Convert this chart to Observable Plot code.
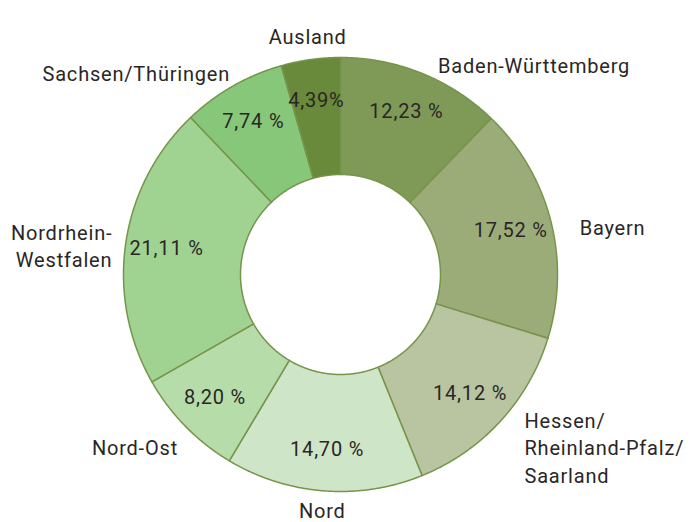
<!DOCTYPE html>
<html>
<head>
<meta charset="utf-8">
<script src="https://cdn.jsdelivr.net/npm/d3@7"></script>
<script src="https://cdn.jsdelivr.net/npm/@observablehq/plot@0.6"></script>
<style>
  html, body { margin: 0; padding: 0; background: #fff; }
  svg text { letter-spacing: 0.8px; }
</style>
</head>
<body>
<div id="chart"></div>
<script>
// Data (clockwise from 12 o'clock)
const regions = ["Baden-Württemberg", "Bayern", "Hessen/\nRheinland-Pfalz/\nSaarland", "Nord", "Nord-Ost", "Nordrhein-\nWestfalen", "Sachsen/Thüringen", "Ausland"];
const shares = [12.23, 17.52, 14.12, 14.70, 8.20, 21.11, 7.74, 4.39];
const shareLabels = ["12,23 %", "17,52 %", "14,12 %", "14,70 %", "8,20 %", "21,11 %", "7,74 %", "4,39%"];
const sliceColors = ["#7f9a57", "#9cac79", "#b9c4a1", "#cfe5c7", "#b6dcaa", "#a0d292", "#87c779", "#688a3a"];

const innerR = 100 / 217;
const outerR = 1;
const total = d3.sum(shares);

// Build slice polygons in data space
const slices = [];
const midAngles = [];
let cum = 0;
regions.forEach((region, i) => {
  const a0 = cum / total * 2 * Math.PI;
  cum += shares[i];
  const a1 = cum / total * 2 * Math.PI;
  midAngles.push((a0 + a1) / 2);
  const n = Math.max(2, Math.ceil((a1 - a0) / 0.005));
  for (let k = 0; k <= n; k++) {
    const a = a0 + (a1 - a0) * k / n;
    slices.push({region, x: outerR * Math.sin(a), y: outerR * Math.cos(a)});
  }
  for (let k = n; k >= 0; k--) {
    const a = a0 + (a1 - a0) * k / n;
    slices.push({region, x: innerR * Math.sin(a), y: innerR * Math.cos(a)});
  }
});

const pctRows = regions.map((region, i) => ({
  label: shareLabels[i],
  x: 0.81 * Math.sin(midAngles[i]),
  y: 0.81 * Math.cos(midAngles[i])
}));

const nameRows = regions.map((region, i) => {
  const s = Math.sin(midAngles[i]);
  const c = Math.cos(midAngles[i]);
  return {
    label: region,
    side: s > 0.3 ? "start" : s < -0.3 ? "end" : "middle",
    x: 1.1 * s,
    y: 1.1 * c
  };
});

const textColor = "#2a2627";
const font = "Roboto, 'DejaVu Sans', sans-serif";
const sideOffsets = {start: [8, 11], end: [8, 5], middle: [0, -3]};

const chart = Plot.plot({
  width: 691,
  height: 522,
  marginLeft: 123,
  marginRight: 134,
  marginTop: 57,
  marginBottom: 31,
  style: {fontFamily: font, background: "white"},
  x: {domain: [-1, 1], axis: null},
  y: {domain: [-1, 1], axis: null},
  color: {domain: regions, range: sliceColors},
  marks: [
    Plot.line(slices, {
      x: "x", y: "y", z: "region",
      fill: "region",
      stroke: "#76944a",
      strokeWidth: 1.5,
      strokeLinejoin: "round",
      curve: "linear-closed"
    }),
    Plot.text(pctRows, {
      x: "x", y: "y", text: "label",
      fill: textColor, fontSize: 20, fontWeight: 400
    }),
    ...["start", "end", "middle"].map(side =>
      Plot.text(nameRows.filter(d => d.side === side), {
        x: "x", y: "y", text: "label",
        textAnchor: side,
        dx: sideOffsets[side][0],
        dy: sideOffsets[side][1],
        lineHeight: 1.36,
        fill: textColor, fontSize: 20, fontWeight: 400
      })
    )
  ]
});

document.getElementById("chart").appendChild(chart);
</script>
</body>
</html>
